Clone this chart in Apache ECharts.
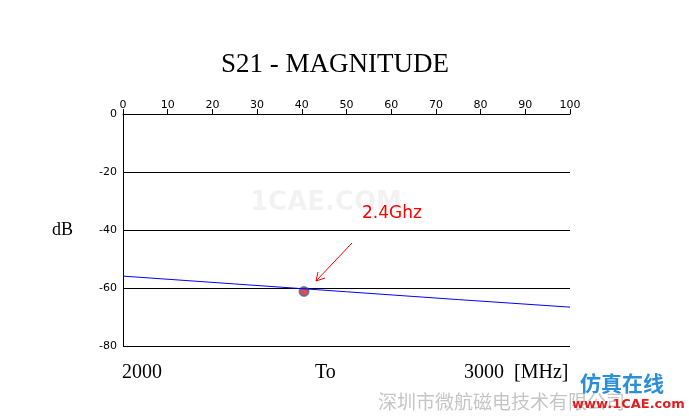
<!DOCTYPE html>
<html lang="en">
  <head>
    <meta charset="UTF-8" />
    <title>S21 magnitude</title>
    <style>
      body, html { margin: 0; width: 100%; height: 100%; background: #fff; }
    </style>
  </head>
  <body>
    <div id="main" style="width:689px;height:416px;"></div>
    <script src="https://cdn.jsdelivr.net/npm/echarts@6/dist/echarts.min.js"></script>
    <script>
      // S21 trace (x in % of span, y in dB)
      const traceX = [0, 25, 50, 75, 100];
      const traceDb = [-55.9, -58.6, -61.3, -64.0, -66.6];
      const marker = [40.5, -61.2];
      const yTicks = [0, -20, -40, -60, -80];

      const myChart = echarts.init(document.getElementById('main'));
      const tickFont = { fontFamily: 'DejaVu Sans', fontSize: 11, color: '#000' };
      const serif = 'Liberation Serif';

      const option = {
        animation: false,
        title: {
          text: 'S21 - MAGNITUDE',
          left: 330, top: 46, textAlign: 'center',
          textStyle: { fontFamily: serif, fontSize: 27, fontWeight: 'normal', color: '#000' },
        },
        grid: { left: 123, right: 119, top: 114, bottom: 70 },
        xAxis: {
          type: 'value', position: 'top', min: 0, max: 100, interval: 10,
          axisLine: { lineStyle: { color: '#000' } },
          axisTick: { show: true, length: 5, lineStyle: { color: '#000' } },
          axisLabel: Object.assign({ margin: 3 }, tickFont),
          splitLine: { show: false },
        },
        yAxis: {
          type: 'value', min: -80, max: 0, interval: 20,
          axisLine: { show: true, lineStyle: { color: '#000' } },
          axisTick: { show: false },
          axisLabel: Object.assign({ margin: 6, formatter: v => yTicks.includes(v) ? String(v) : '' }, tickFont),
          splitLine: { lineStyle: { color: '#000', width: 1 } },
        },
        series: [
          {
            type: 'line', symbol: 'none',
            lineStyle: { color: '#0000ff', width: 1 },
            data: traceX.map((x, i) => [x, traceDb[i]]),
          },
          {
            type: 'scatter', symbolSize: 9,
            itemStyle: { color: '#d42020', borderColor: '#4a6a9a', borderWidth: 2 },
            data: [marker],
          },
        ],
        graphic: [
          { type: 'text', left: 52, top: 221, style: { text: 'dB', font: '18px "Liberation Serif"', fill: '#000' } },
          { type: 'text', left: 122, top: 363, style: { text: '2000', font: '20px "Liberation Serif"', fill: '#000' } },
          { type: 'text', left: 315, top: 363, style: { text: 'To', font: '20px "Liberation Serif"', fill: '#000' } },
          { type: 'text', left: 464, top: 363, style: { text: '3000  [MHz]', font: '20px "Liberation Serif"', fill: '#000' } },
          { type: 'text', left: 362, top: 205, style: { text: '2.4Ghz', font: '17px "DejaVu Sans"', fill: '#ff0000' } },
          { type: 'line', shape: { x1: 352, y1: 243, x2: 316, y2: 281 }, style: { stroke: '#ff0000', lineWidth: 1 } },
          { type: 'polyline', shape: { points: [[318, 272], [316, 281], [325, 278]] }, style: { stroke: '#ff0000', lineWidth: 1, fill: null } },
          { type: 'text', left: 250, top: 190, style: { text: '1CAE.COM', font: 'bold 26px "DejaVu Sans"', fill: 'rgba(0,0,0,0.05)' } },
          { type: 'text', left: 378, top: 392, style: { text: '深圳市微航磁电技术有限公司', font: '19px "Noto Sans CJK SC"', fill: 'rgba(150,150,150,0.55)' } },
          { type: 'text', left: 580, top: 373, style: { text: '仿真在线', font: 'bold 21px "Noto Sans CJK SC"', fill: '#2a8fd8' } },
          { type: 'text', left: 572, top: 398, style: { text: 'www.1CAE.com', font: 'bold 13px "DejaVu Sans"', fill: '#e02020' } },
        ],
      };

      myChart.setOption(option);
    </script>
  </body>
</html>
